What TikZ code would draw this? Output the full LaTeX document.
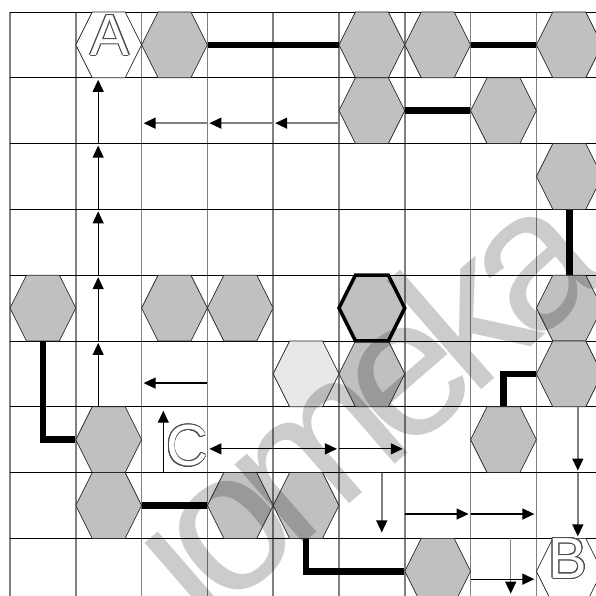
\documentclass[tikz,border=0pt]{standalone}
\usepackage{fontspec}
\usepackage{tikz}
\usepackage[copies]{contour}
\usetikzlibrary{shapes.symbols, arrows.meta}
\newfontfamily\lettersf{Liberation Sans}
\definecolor{hexgray}{RGB}{192,192,192}
\definecolor{hexlight}{RGB}{232,232,232}
\definecolor{gridgray}{RGB}{128,128,128}
\contourlength{0.9pt}
\tikzset{
  hexa/.style={signal, signal to=east and west, signal pointer angle=126.87,
    minimum width=65.8pt, minimum height=65.8pt, inner sep=0pt,
    draw=black!85, line width=0.7pt, fill=hexgray},
  wall/.style={line width=6.5pt},
  flow/.style={-{Triangle[length=12pt,width=11pt,color=black]}, line width=1.2pt, shorten >=2pt},
  flowgray/.style={flow, draw=gridgray, line width=1.5pt},
  letter/.style={font=\lettersf\fontsize{58}{58}\selectfont, text=white, inner sep=0pt},
  watermark/.style={font=\lettersf\fontsize{198}{200}\selectfont, text=black,
    text opacity=0.2, inner sep=0pt, rotate=41, anchor=base west}
}

\begin{document}
\begin{tikzpicture}[x=65.8pt, y=-65.8pt]
\useasboundingbox (-0.152,-0.182) rectangle (8.906,8.875);
\clip (-0.152,-0.182) rectangle (8.906,8.875);
% grid
\foreach \c in {0,...,8} {
  \draw[gridgray, line width=1.6pt] (\c,0) -- (\c,8.9);
}
\foreach \r in {0,...,8} {
  \draw[black, line width=0.9pt] (0,\r) -- (8.95,\r);
}
% hexagons
\foreach \c/\r in {2/0,5/0,6/0,8/0,5/1,7/1,8/2,0/4,2/4,3/4,8/4,
                   5/5,8/5,1/6,7/6,1/7,3/7,4/7,6/8} {
  \node[hexa] (h\c\r) at (\c+0.5,\r+0.5) {};
}
\node[hexa, fill=white] (h10) at (1.5,0.5) {};
\node[hexa, fill=white] (h88) at (8.5,8.5) {};
\node[hexa, fill=hexlight] (h45) at (4.5,5.5) {};
\node[hexa, draw=black, line width=3.5pt] (h54) at (5.5,4.5) {};
% walls
\draw[wall] (h20.east) -- (h50.west);
\draw[wall] (h60.east) -- (h80.west);
\draw[wall] (h51.east) -- (h71.west);
\draw[wall] (h82.south) -- (h84.north);
\draw[wall] (h04.south) |- (h16.west);
\draw[wall] (h85.west) -| (h76.north);
\draw[wall] (h17.east) -- (h37.west);
\draw[wall] (h47.south) |- (h68.west);
% path arrows
\foreach \r in {6,5,4,3,2} {
  \draw[flow] (1.34,\r) -- (1.34,\r-1);
}
\foreach \c in {5,4,3} {
  \draw[flowgray] (\c,1.69) -- (\c-1,1.69);
}
\draw[flow] (3,5.64) -- (2,5.64);
\draw[flow] (2.33,7) -- (2.33,6.03);
\draw[flow, shorten <=2pt, {Triangle[length=12pt,width=11pt]}-{Triangle[length=12pt,width=11pt]}]
  (3,6.64) -- (5,6.64);
\draw[flow] (5,6.64) -- (6,6.64);
\foreach \r in {6,7} {
  \draw[flowgray] (8.63,\r) -- (8.63,\r+1);
}
\draw[flowgray] (5.65,7) -- (5.65,7.94);
\foreach \c in {6,7} {
  \draw[flow] (\c,7.63) -- (\c+1,7.63);
}
\draw[flowgray] (7.61,8) -- (7.61,8.87);
\draw[flow] (7,8.62) -- (8,8.62);
% letters
\node[letter] (labA) at (1.52,0.36) {\contour{black!70}{A}};
\node[letter] (labB) at (8.48,8.31) {\contour{black!70}{B}};
\node[letter] (labC) at (2.69,6.60) {\contour{black!70}{C}};
% watermark
\node[watermark] (wm) at (2.872,9.468)
  {ı\kern-.1em o\kern-.1em m\kern-.1em e\kern-.1em k\kern-.1em a};
\end{tikzpicture}
\end{document}
